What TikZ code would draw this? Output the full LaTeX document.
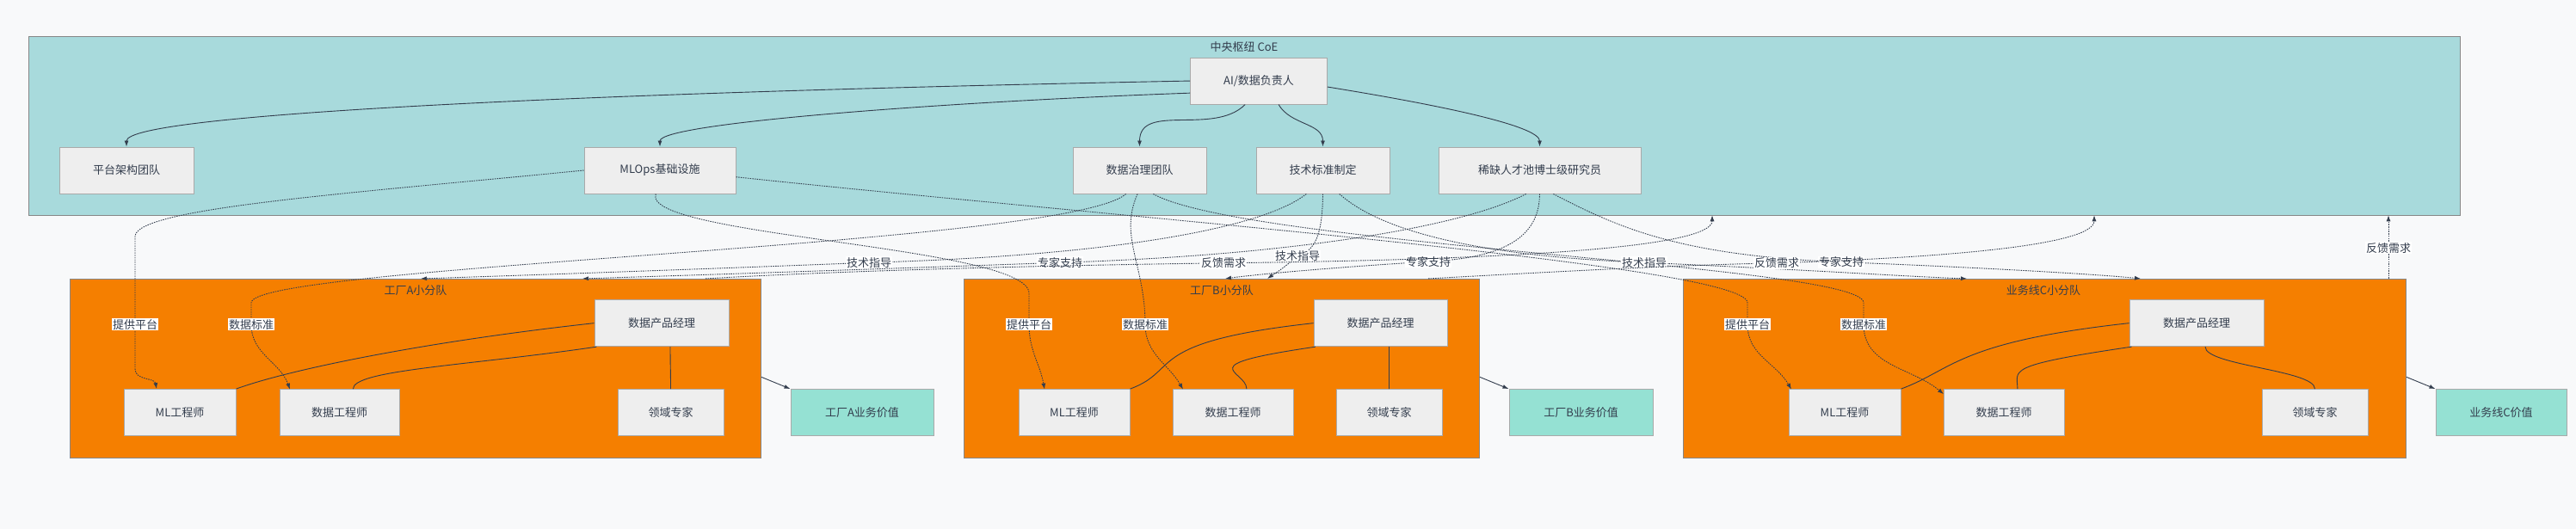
\documentclass[tikz,border=0pt]{standalone}
\usepackage{fontspec}
\setmainfont{Noto Sans CJK SC}
\usetikzlibrary{arrows.meta,calc}
\definecolor{bg}{HTML}{F8F9FA}
\definecolor{coe}{HTML}{A8DADC}
\definecolor{team}{HTML}{F57F00}
\definecolor{nodef}{HTML}{EEEEEE}
\definecolor{val}{HTML}{95E1D3}
\definecolor{ln}{HTML}{333D4D}
\definecolor{bd}{HTML}{A9A9A9}
\begin{document}
\begin{tikzpicture}[x=1pt,y=-0.55pt,
  every node/.style={font=\fontsize{13}{16}\selectfont,text=ln},
  box/.style={draw=bd,line width=1pt,fill=nodef,minimum height=54pt,inner sep=0pt},
  vbox/.style={box,fill=val},
  grp/.style={draw=bd!80!black,line width=1pt,inner sep=0pt},
  lbl/.style={fill=white,inner sep=1pt},
  arr/.style={draw=ln,line width=0.9pt,-{Latex[length=7pt,width=5pt]}},
  sl/.style={draw=ln,line width=0.9pt},
  dl/.style={arr,dash pattern=on 1.5pt off 1.2pt},
]
\useasboundingbox (0,0) rectangle (2994,1118);
\fill[bg] (0,0) rectangle (2994,1118);
% groups
\node[grp,fill=coe,minimum width=2826pt,minimum height=208pt,anchor=north west] (coe) at (33,77) {};
\node (coetitle) at (1446,100) {中央枢纽 CoE};
\node[grp,fill=team,minimum width=803pt,minimum height=208pt,anchor=north west] (A) at (81,589) {};
\node[grp,fill=team,minimum width=599pt,minimum height=208pt,anchor=north west] (B) at (1120,589) {};
\node[grp,fill=team,minimum width=840pt,minimum height=208pt,anchor=north west] (C) at (1956,589) {};
\node (At) at (483,614) {工厂A小分队};
\node (Bt) at (1420,614) {工厂B小分队};
\node (Ct) at (2375,614) {业务线C小分队};
% CoE nodes
\node[box,minimum width=159pt] (ai) at (1463,171) {AI/数据负责人};
\node[box,minimum width=156pt] (plat) at (147,360) {平台架构团队};
\node[box,minimum width=176pt] (mlops) at (767,360) {MLOps基础设施};
\node[box,minimum width=155pt] (gov) at (1324.5,360) {数据治理团队};
\node[box,minimum width=155pt] (std) at (1537.5,360) {技术标准制定};
\node[box,minimum width=235pt] (tal) at (1789.5,360) {稀缺人才池博士级研究员};
% team nodes
\node[box,minimum width=156pt] (dpmA) at (769,683) {数据产品经理};
\node[box,minimum width=130pt] (mlA) at (209,872) {ML工程师};
\node[box,minimum width=139pt] (deA) at (394.5,872) {数据工程师};
\node[box,minimum width=123pt] (domA) at (779.5,872) {领域专家};
\node[vbox,minimum width=166pt] (valA) at (1002,872) {工厂A业务价值};
\node[box,minimum width=155pt] (dpmB) at (1604.5,683) {数据产品经理};
\node[box,minimum width=129pt] (mlB) at (1248.5,872) {ML工程师};
\node[box,minimum width=140pt] (deB) at (1433,872) {数据工程师};
\node[box,minimum width=123pt] (domB) at (1614.5,872) {领域专家};
\node[vbox,minimum width=167pt] (valB) at (1837.5,872) {工厂B业务价值};
\node[box,minimum width=156pt] (dpmC) at (2553,683) {数据产品经理};
\node[box,minimum width=130pt] (mlC) at (2144,872) {ML工程师};
\node[box,minimum width=140pt] (deC) at (2329,872) {数据工程师};
\node[box,minimum width=123pt] (domC) at (2690.5,872) {领域专家};
\node[vbox,minimum width=152pt] (valC) at (2907,872) {业务线C价值};
% coordinates
\coordinate (Ain1) at (489,589); \coordinate (Ain2) at (677,589);
\coordinate (Bin1) at (1473,589); \coordinate (Bin2) at (1424,589);
\coordinate (Cin1) at (2286,589); \coordinate (Cin2) at (2488,589);
\coordinate (Aout) at (820,589); \coordinate (Bout) at (1660,589); \coordinate (Cout) at (2776,589);
\coordinate (coeA) at (1990,455); \coordinate (coeB) at (2434,455); \coordinate (coeC) at (2776,455);
% solid arrows from lead
\draw[arr] (ai.west) .. controls (700,195) and (147,240) .. (plat.north);
\draw[arr] (ai.190) .. controls (1100,215) and (767,260) .. (mlops.north);
\draw[arr] (ai.-120) to[out=-135,in=90] (gov.north);
\draw[arr] (ai.-50) to[out=-60,in=90] (std.north);
\draw[arr] (ai.-5) .. controls (1700,230) and (1789.5,270) .. (tal.north);
% provide platform
\draw[dl] (mlops.west) .. controls (400,410) and (157,440) .. (157,500) -- (157,686) node[lbl] (pA) {提供平台} -- (157,780) to[out=-90,in=100] (mlA.north -| 182,0);
\draw[dl] (mlops.-100) .. controls (745,500) and (1196,520) .. (1196,620) -- (1196,686) node[lbl] (pB) {提供平台} to[out=-90,in=100] (1214,823);
\draw[dl] (mlops.-5) .. controls (1300,460) and (2031,560) .. (2031,640) -- (2031,686) node[lbl] (pC) {提供平台} to[out=-90,in=120] (2082,823);
% data standards
\draw[dl] (gov.-120) .. controls (1240,520) and (292,560) .. (292,640) -- (292,686) node[lbl] (sA) {数据标准} to[out=-90,in=110] (337,823);
\draw[dl] (gov.-95) .. controls (1300,500) and (1331,560) .. (1331,686) node[lbl] (sB) {数据标准} to[out=-90,in=120] (1375,823);
\draw[dl] (gov.-60) .. controls (1450,520) and (2166,560) .. (2166,640) -- (2166,686) node[lbl] (sC) {数据标准} to[out=-90,in=140] (2259,833);
% tech guidance
\draw[dl] (std.-125) .. controls (1470,480) and (1300,540) .. (1010,555) node[lbl] (tA) {技术指导} .. controls (800,570) and (560,585) .. (Ain1);
\draw[dl] (std.south) .. controls (1537,490) and (1530,530) .. (1508,541) node[lbl] (tB) {技术指导} .. controls (1490,570) and (1480,580) .. (Bin1);
\draw[dl] (std.-55) .. controls (1600,480) and (1700,540) .. (1911,555) node[lbl] (tC) {技术指导} .. controls (2100,570) and (2220,585) .. (Cin1);
% expert support
\draw[dl] (tal.-120) .. controls (1700,480) and (1500,540) .. (1232,555) node[lbl] (eA) {专家支持} .. controls (1000,570) and (750,585) .. (Ain2);
\draw[dl] (tal.-90) .. controls (1789,500) and (1750,545) .. (1660,553) node[lbl] (eB) {专家支持} .. controls (1550,565) and (1460,580) .. (Bin2);
\draw[dl] (tal.-60) .. controls (1880,480) and (1950,540) .. (2140,554) node[lbl] (eC) {专家支持} .. controls (2300,565) and (2440,580) .. (Cin2);
% feedback
\draw[dl] (Aout) .. controls (1000,570) and (1250,560) .. (1422,556) node[lbl] (fA) {反馈需求} .. controls (1700,550) and (1990,530) .. (coeA);
\draw[dl] (Bout) .. controls (1800,575) and (1950,560) .. (2065,556) node[lbl] (fB) {反馈需求} .. controls (2250,545) and (2434,520) .. (coeB);
\draw[dl] (Cout) -- (2776,524) node[lbl] (fC) {反馈需求} -- (coeC);
% inside teams
\foreach \t in {A,B,C}{
  \draw[sl] (dpm\t.west) .. controls +(-200,40) and +(60,-40) .. (ml\t.north east);
  \draw[sl] (dpm\t.-160) .. controls +(-150,40) and +(0,-40) .. (de\t.60);
  \draw[sl] (dpm\t.-70) .. controls +(0,40) and +(0,-40) .. (dom\t.north);
}
\draw[arr] (A.east |- 0,797) -- (valA.north west);
\draw[arr] (B.east |- 0,797) -- (valB.north west);
\draw[arr] (C.east |- 0,797) -- (valC.north west);
\end{tikzpicture}
\end{document}
